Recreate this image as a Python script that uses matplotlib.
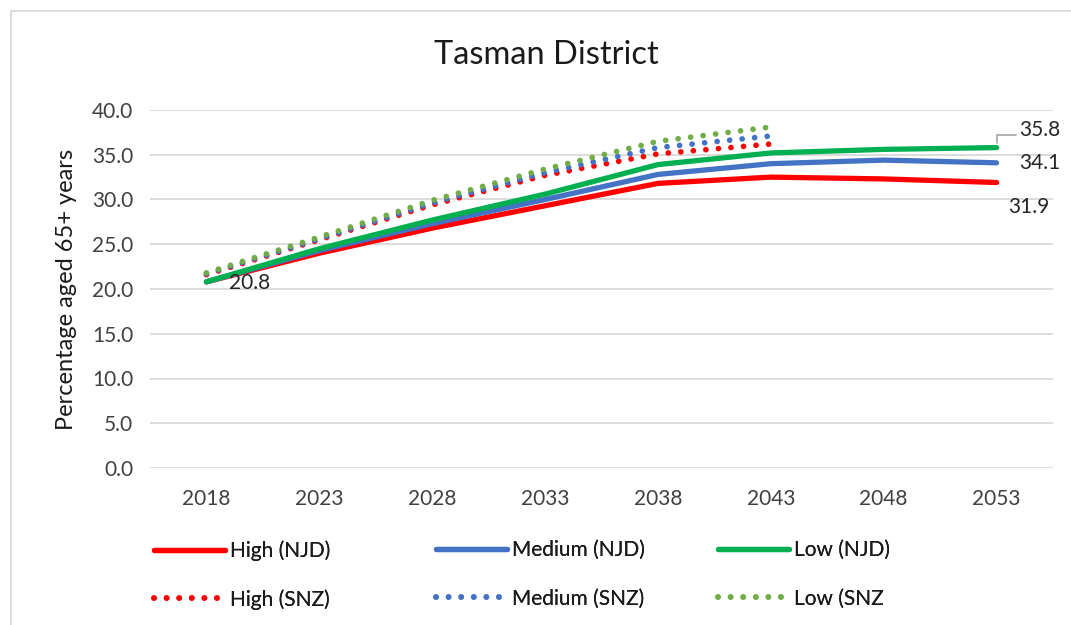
import numpy as np
import matplotlib
matplotlib.use("Agg")
from matplotlib import pyplot as plt
from matplotlib.lines import Line2D

plt.rcParams['font.family'] = ['Lato', 'DejaVu Sans']

years = ['2018', '2023', '2028', '2033', '2038', '2043', '2048', '2053']

# NJD projections, full range
high_njd = [20.8, 24.0, 26.8, 29.3, 31.8, 32.5, 32.3, 31.9]
medium_njd = [20.8, 24.3, 27.3, 30.0, 32.8, 34.0, 34.4, 34.1]
low_njd = [20.8, 24.5, 27.7, 30.6, 33.9, 35.2, 35.6, 35.8]

# SNZ projections, 2018-2043 only
high_snz = [21.6, 25.5, 29.4, 32.7, 35.1, 36.2]
medium_snz = [21.7, 25.6, 29.6, 33.0, 35.8, 37.1]
low_snz = [21.8, 25.8, 29.9, 33.4, 36.5, 38.1]

red = '#FF0000'
blue = '#4472C4'
green = '#00B050'
lgreen = '#70AD47'
dots = (0, (0.01, 2.2))

fig = plt.figure(figsize=(10.71, 6.25), dpi=100)
ax = fig.add_axes([150/1071, 1-468/625, 903/1071, 358/625])

x = np.arange(len(years))
xs = x[:len(high_snz)]

h1, = ax.plot(x, high_njd, color=red, lw=3.8, solid_capstyle='round', label='High (NJD)')
h2, = ax.plot(x, medium_njd, color=blue, lw=3.8, solid_capstyle='round', label='Medium (NJD)')
h3, = ax.plot(x, low_njd, color=green, lw=3.8, solid_capstyle='round', label='Low (NJD)')
d1, = ax.plot(xs, high_snz, color=red, lw=4.1, ls=dots, dash_capstyle='round', label='High (SNZ)')
d2, = ax.plot(xs, medium_snz, color=blue, lw=4.1, ls=dots, dash_capstyle='round', label='Medium (SNZ)')
d3, = ax.plot(xs, low_snz, color=lgreen, lw=4.1, ls=dots, dash_capstyle='round', label='Low (SNZ')

ax.set_xlim(-0.5, len(years) - 0.5)
ax.set_ylim(0, 40)
ax.set_yticks(np.arange(0, 41, 5))
ax.set_yticklabels(['%.1f' % v for v in np.arange(0, 41, 5)])
ax.set_xticks(x)
ax.set_xticklabels(years)
ax.tick_params(length=0, labelsize=15, colors='#404040')
ax.tick_params(axis='x', pad=15)
ax.tick_params(axis='y', pad=12)
ax.grid(axis='y', color='#D9D9D9', lw=1.3)
ax.set_axisbelow(True)
for s in ax.spines.values():
    s.set_visible(False)
ax.set_ylabel('Percentage aged 65+ years', fontsize=17, color='#1a1a1a', labelpad=11)

# data labels
lab = dict(fontsize=15, color='#262626', va='center', ha='left', textcoords='offset points')
ax.annotate('%.1f' % low_njd[0], (x[0], low_njd[0]), xytext=(16, -1), **lab)
ax.annotate('%.1f' % low_njd[-1], (x[-1], low_njd[-1]), xytext=(16, 13),
            arrowprops=dict(arrowstyle='-', color='#A6A6A6', lw=1.2,
                            connectionstyle='angle,angleA=0,angleB=90,rad=0',
                            relpos=(0, 0.25), shrinkA=0, shrinkB=3), **lab)
ax.annotate('%.1f' % medium_njd[-1], (x[-1], medium_njd[-1]), xytext=(16, 0), **lab)
ax.annotate('%.1f' % high_njd[-1], (x[-1], high_njd[-1]), xytext=(8, -18), **lab)

fig.text(546/1071, 1-55/625, 'Tasman District', fontsize=23.5, color='#1a1a1a', ha='center', va='center')

# legend, three equally spaced columns
cols = [(h1, d1), (h2, d2), (h3, d3)]
for i, (a, b) in enumerate(cols):
    leg = fig.legend(handles=[a, b], loc='upper left',
                     bbox_to_anchor=((148 + 282*i)/1071, 1-534/625),
                     frameon=False, fontsize=15, handlelength=3.4, handletextpad=0.25,
                     labelspacing=1.35, borderaxespad=0, borderpad=0.3)
    for t in leg.get_texts():
        t.set_color('#1a1a1a')
    fig.add_artist(leg)

# chart border
fig.add_artist(Line2D([11/1071, 1], [1-11/625, 1-11/625], color='#D9D9D9', lw=1.3))
fig.add_artist(Line2D([11/1071, 11/1071], [0, 1-11/625], color='#D9D9D9', lw=1.3))

fig.savefig('out.png', dpi=100)
